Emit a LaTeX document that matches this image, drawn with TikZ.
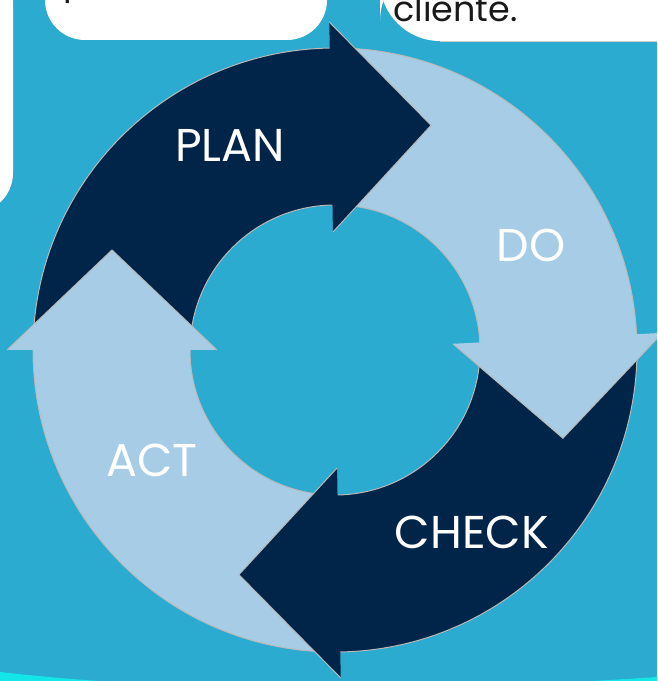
\documentclass[tikz,border=0pt]{standalone}
\usepackage{fontspec}
\newfontfamily\cyclefont{Poppins}
\usetikzlibrary{calc}
\definecolor{bgblue}{HTML}{2BABCF}
\definecolor{navy}{HTML}{012549}
\definecolor{pale}{HTML}{A6CCE6}
\definecolor{aqua}{HTML}{14E6E8}

\begin{document}
\begin{tikzpicture}[x=1pt,y=1pt,
  stagetext/.style={text=white,font=\cyclefont\fontsize{46}{46}\selectfont},
  cardtext/.style={text=black!90,font=\cyclefont\fontsize{35}{35}\selectfont},
  card/.style={fill=white,rounded corners=40pt},
  rim/.style={draw=gray!55,line width=1pt}]
\useasboundingbox (0,0) rectangle (657,681);
\clip (0,0) rectangle (657,681);
\fill[bgblue] (0,0) rectangle (657,681);

% white cards cut by the top edge
\fill[card] (-40,468) rectangle (13,720);
\fill[card] (45,641) rectangle (327,720);
\fill[card,rounded corners=60pt] (380,640) rectangle (720,720);
\draw[gray!40] (440,640) -- (657,640);
\node[cardtext,anchor=base west,inner sep=0pt] (p) at (63,686) {p};
\node[cardtext,anchor=base west,inner sep=0pt] (cliente) at (393,659) {cliente.};

% band along the bottom
\fill[aqua] (0,9) .. controls (200,-14) and (450,-10) .. (657,4) -- (657,-5) -- (0,-5) -- cycle;

% the cycle
\begin{scope}[shift={(335,331)}]
\foreach \a/\col in {180/navy,90/pale,0/navy,-90/pale}{
  \fill[\col] (\a:302) arc[start angle=\a,end angle=\a-90,radius=302]
    -- (\a-90:145) arc[start angle=\a-90,end angle=\a,radius=145] -- cycle;
  \draw[rim] (\a:302) arc[start angle=\a,end angle=\a-90,radius=302];
  \draw[rim] (\a-90:145) arc[start angle=\a-90,end angle=\a,radius=145];
}
\foreach \a/\col in {91/navy,3/pale,-89/navy,180/pale}{
  \fill[\col] (\a:328) -- ($(\a:223)+(\a-90:100)$) -- (\a:118) -- cycle;
  \draw[rim] (\a:328) -- ($(\a:223)+(\a-90:100)$) -- (\a:118);
}
\end{scope}

\node[stagetext] (plan) at (230,536) {PLAN};
\node[stagetext] (do) at (531,436) {DO};
\node[stagetext] (check) at (472,149) {CHECK};
\node[stagetext] (act) at (152,221) {ACT};
\end{tikzpicture}
\end{document}
